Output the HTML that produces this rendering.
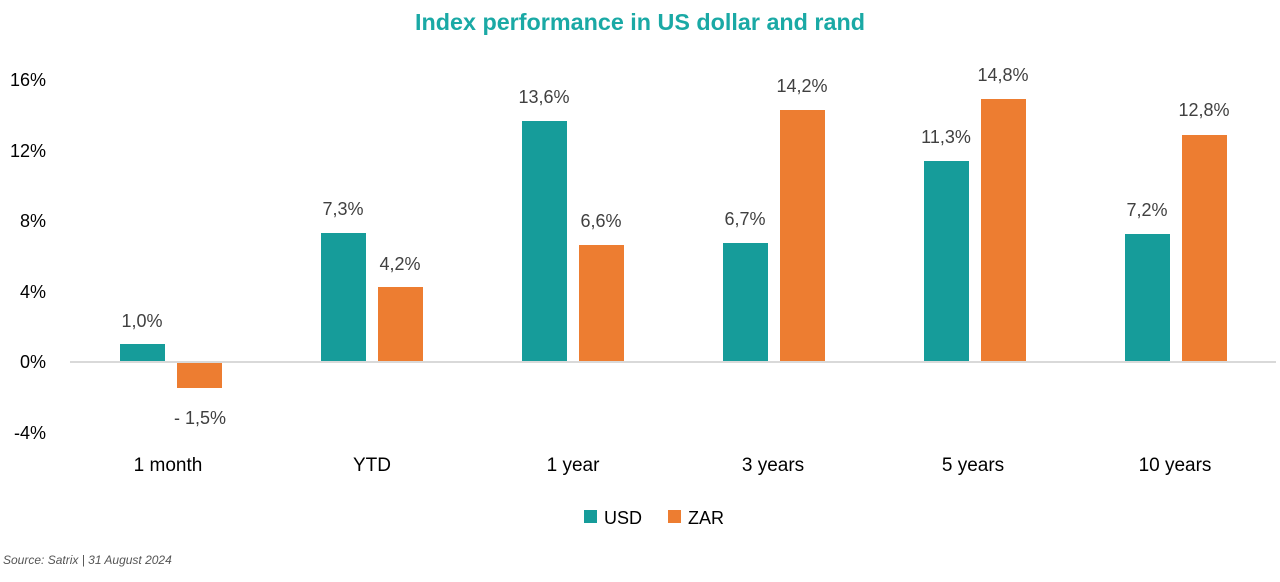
<!DOCTYPE html>
<html><head><meta charset="utf-8"><style>body{margin:0;background:#fff}</style></head><body>
<svg width="1280" height="577" xmlns="http://www.w3.org/2000/svg" font-family="Liberation Sans, sans-serif">
<text x="640" y="30" text-anchor="middle" font-size="23" font-weight="bold" fill="#1aa9a5" textLength="450" lengthAdjust="spacingAndGlyphs">Index performance in US dollar and rand</text>
<g font-size="18" fill="#000" text-anchor="end">
<text x="46" y="86">16%</text><text x="46" y="157">12%</text><text x="46" y="227">8%</text>
<text x="46" y="298">4%</text><text x="46" y="368">0%</text><text x="46" y="439">-4%</text>
</g>
<line x1="70" y1="362" x2="1276" y2="362" stroke="#d9d9d9" stroke-width="2"/>
<g fill="#169c9a">
<rect x="120" y="344" width="45" height="17"/>
<rect x="321" y="233" width="45" height="128"/>
<rect x="522" y="121" width="45" height="240"/>
<rect x="723" y="243" width="45" height="118"/>
<rect x="924" y="161" width="45" height="200"/>
<rect x="1125" y="234" width="45" height="127"/>
</g>
<g fill="#ed7d31">
<rect x="177" y="363" width="45" height="25"/>
<rect x="378" y="287" width="45" height="74"/>
<rect x="579" y="245" width="45" height="116"/>
<rect x="780" y="110" width="45" height="251"/>
<rect x="981" y="99" width="45" height="262"/>
<rect x="1182" y="135" width="45" height="226"/>
</g>
<g font-size="18" fill="#404040" text-anchor="middle">
<text x="142" y="327">1,0%</text><text x="200" y="424">- 1,5%</text>
<text x="343" y="215">7,3%</text><text x="400" y="270">4,2%</text>
<text x="544" y="103">13,6%</text><text x="601" y="227">6,6%</text>
<text x="745" y="225">6,7%</text><text x="802" y="92">14,2%</text>
<text x="946" y="143">11,3%</text><text x="1003" y="81">14,8%</text>
<text x="1147" y="216">7,2%</text><text x="1204" y="116">12,8%</text>
</g>
<g font-size="19" fill="#000" text-anchor="middle">
<text x="168" y="471">1 month</text><text x="372" y="471">YTD</text>
<text x="573" y="471">1 year</text><text x="773" y="471">3 years</text>
<text x="973" y="471">5 years</text><text x="1175" y="471">10 years</text>
</g>
<rect x="584" y="510" width="13" height="13" fill="#169c9a"/>
<text x="604" y="524" font-size="18">USD</text>
<rect x="668" y="510" width="13" height="13" fill="#ed7d31"/>
<text x="688" y="524" font-size="18">ZAR</text>
<text x="3" y="564" font-size="12" font-style="italic" fill="#555">Source: Satrix | 31 August 2024</text>
</svg>
</body></html>
